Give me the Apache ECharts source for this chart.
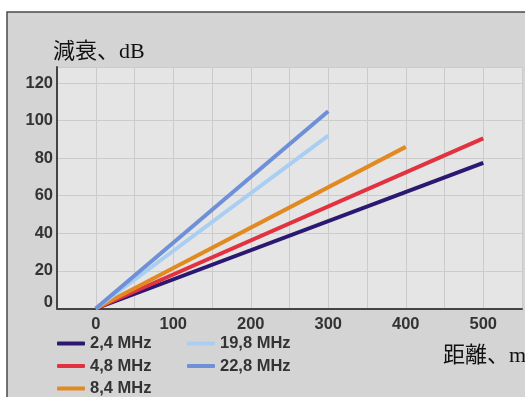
<!DOCTYPE html>
<html>
<head>
<meta charset="utf-8">
<script src="https://cdn.jsdelivr.net/npm/echarts@6/dist/echarts.min.js"></script>
<style>
html,body{margin:0;padding:0;background:#fff;}
#chart{width:525px;height:397px;}
</style>
</head>
<body>
<div id="chart"></div>
<script>
// Series names (legend)
const seriesNames = ['2,4 MHz', '4,8 MHz', '8,4 MHz', '19,8 MHz', '22,8 MHz'];
// Distance (m) / attenuation (dB) for each series
const dist_2_4 = [0, 500];
const att_2_4 = [0, 77.5];
const dist_4_8 = [0, 500];
const att_4_8 = [0, 90.5];
const dist_8_4 = [0, 400];
const att_8_4 = [0, 86];
const dist_19_8 = [0, 300];
const att_19_8 = [0, 92];
const dist_22_8 = [0, 300];
const att_22_8 = [0, 105];
// Tick labels
const xTickLabels = [0, 100, 200, 300, 400, 500];
const yTickLabels = [0, 20, 40, 60, 80, 100, 120];
const xAxisTitle = '距離、m';
const yAxisTitle = '減衰、dB';

const colors = ['#2b1870', '#e2323f', '#e28a22', '#a9cef2', '#6d90d8'];
const numFont = '"Liberation Sans", Arial, sans-serif';
const serifFont = '"Liberation Serif", "Noto Sans CJK JP", serif';
const numSize = 16.5;
const numWeight = 'bold';
const numColor = '#333333';

function pairs(xs, ys) { return xs.map((x, i) => [x, ys[i]]); }
const seriesData = [
  pairs(dist_2_4, att_2_4),
  pairs(dist_4_8, att_4_8),
  pairs(dist_8_4, att_8_4),
  pairs(dist_19_8, att_19_8),
  pairs(dist_22_8, att_22_8)
];

const chart = echarts.init(document.getElementById('chart'), null, {renderer: 'canvas'});
const legendText = {fontFamily: numFont, fontSize: numSize, fontWeight: numWeight, color: numColor, lineHeight: 17};
chart.setOption({
  animation: false,
  backgroundColor: '#ffffff',
  color: colors,
  graphic: [
    {type: 'rect', z: -100, shape: {x: 7, y: 12, width: 540, height: 400},
     style: {fill: '#d4d4d4', stroke: '#4a4a4a', lineWidth: 1.5}},
    {type: 'text', z: 10, x: 53, y: 52,
     style: {text: yAxisTitle, font: '22px ' + serifFont, fill: '#111', verticalAlign: 'middle'}},
    {type: 'text', z: 10, x: 443, y: 356,
     style: {text: xAxisTitle, font: '22px ' + serifFont, fill: '#111', verticalAlign: 'middle'}}
  ],
  grid: {left: 57, top: 67, width: 469.6, height: 241.5, show: true,
         backgroundColor: '#e5e5e5', borderWidth: 0, containLabel: false},
  legend: [
    {data: seriesNames.slice(0, 3), orient: 'vertical', left: 57, top: 335, height: 120, itemGap: 5.5,
     icon: 'roundRect', itemWidth: 28, itemHeight: 4, textStyle: legendText, padding: 0},
    {data: seriesNames.slice(3), orient: 'vertical', left: 187, top: 335, height: 120, itemGap: 5.5,
     icon: 'roundRect', itemWidth: 28, itemHeight: 4, textStyle: legendText, padding: 0}
  ],
  xAxis: {
    type: 'value', min: -50, max: 550, interval: 50,
    axisLine: {show: true, lineStyle: {color: '#444', width: 2}},
    axisTick: {show: false},
    splitLine: {show: true, lineStyle: {color: '#cbcbcb', width: 1}},
    axisLabel: {
      margin: 7, fontFamily: numFont, fontSize: numSize, fontWeight: numWeight, color: numColor,
      showMinLabel: true, showMaxLabel: true,
      formatter: v => xTickLabels.indexOf(v) >= 0 ? String(v) : ''
    }
  },
  yAxis: {
    type: 'value', min: 0, max: 128.5, interval: 20,
    axisLine: {show: true, onZero: false, lineStyle: {color: '#444', width: 2}},
    axisTick: {show: false},
    splitLine: {show: true, lineStyle: {color: '#cbcbcb', width: 1}},
    axisLabel: {
      margin: 4, fontFamily: numFont, fontSize: numSize, fontWeight: numWeight, color: numColor,
      showMaxLabel: false,
      formatter: v => {
        if (yTickLabels.indexOf(v) < 0) return '';
        return v === 0 ? '{z|0}' : String(v);
      },
      rich: {z: {fontFamily: numFont, fontSize: numSize, fontWeight: numWeight, color: numColor, padding: [0, 0, 13, 0]}}
    }
  },
  series: seriesNames.map((name, i) => ({
    name: name, type: 'line', data: seriesData[i], showSymbol: false, symbol: 'none',
    lineStyle: {width: 4, color: colors[i], cap: 'butt'}, z: 3
  }))
});
</script>
</body>
</html>
